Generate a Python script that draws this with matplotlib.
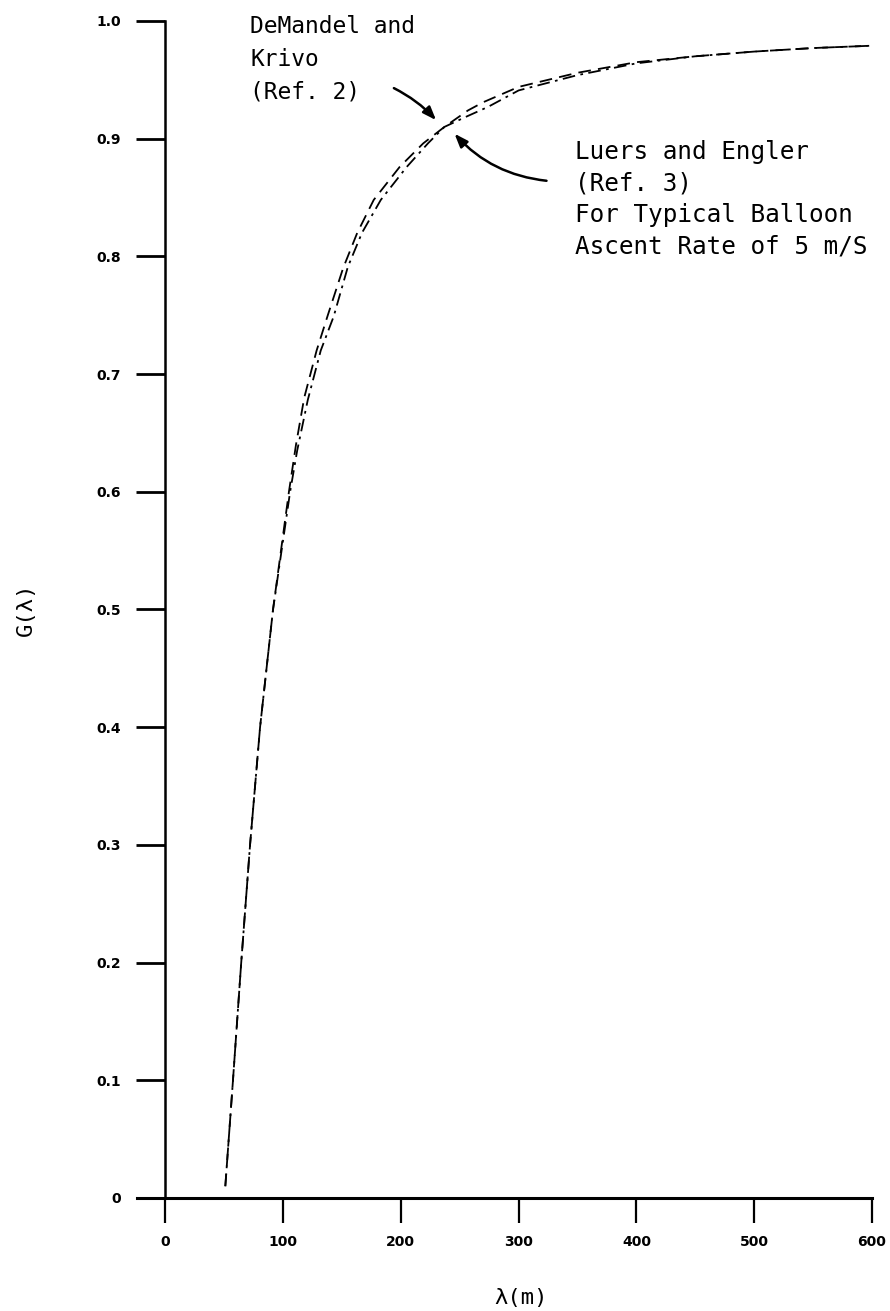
import matplotlib
matplotlib.use("Agg")
import matplotlib.pyplot as plt

# ---- data ----
demandel_x = [51, 57.5, 64.5, 72, 80.5, 91.5, 105, 111, 118, 128.5, 138, 151, 163, 177,
              199, 219, 237, 257, 270, 300, 350, 400, 450, 500, 550, 600]
demandel_y = [0.01, 0.10, 0.20, 0.30, 0.40, 0.50, 0.60, 0.64, 0.68, 0.72, 0.75, 0.79, 0.82,
              0.848, 0.876, 0.896, 0.910, 0.924, 0.931, 0.944, 0.956, 0.965, 0.970, 0.974,
              0.977, 0.979]

luers_x = [51, 57.5, 64.5, 72, 80.5, 91.5, 106, 112, 121, 132, 143, 155, 167, 183,
           205, 223, 237, 254, 274, 300, 350, 400, 450, 500, 550, 600]
luers_y = [0.01, 0.10, 0.20, 0.30, 0.40, 0.50, 0.60, 0.635, 0.678, 0.72, 0.749, 0.791, 0.82,
           0.848, 0.876, 0.896, 0.910, 0.918, 0.927, 0.941, 0.954, 0.964, 0.970, 0.974,
           0.977, 0.979]

x_ticks = [0, 100, 200, 300, 400, 500, 600]
x_tick_labels = ["0", "100", "200", "300", "400", "500", "600"]
y_ticks = [0, 0.1, 0.2, 0.3, 0.4, 0.5, 0.6, 0.7, 0.8, 0.9, 1.0]
y_tick_labels = ["0", "0.1", "0.2", "0.3", "0.4", "0.5", "0.6", "0.7", "0.8", "0.9", "1.0"]

label_demandel = "DeMandel and\nKrivo\n(Ref. 2)"
label_luers = "Luers and Engler\n(Ref. 3)\nFor Typical Balloon\nAscent Rate of 5 m/S"

# ---- figure ----
fig = plt.figure(figsize=(8.9, 13.11), dpi=100)
ax = fig.add_axes([0.1539, 0.0862, 0.8259, 0.8978])

mono = "DejaVu Sans Mono"

ax.plot(demandel_x, demandel_y, color="black", lw=1.3, linestyle=(0, (7, 4)))
ax.plot(luers_x, luers_y, color="black", lw=1.3, linestyle=(0, (7, 3, 1.5, 3)))

ax.set_xlim(-24, 600)
ax.set_ylim(0, 1.0)

for s in ["top", "right"]:
    ax.spines[s].set_visible(False)
ax.spines["left"].set_position(("data", 0))
ax.spines["left"].set_bounds(0, 1.0)
ax.spines["left"].set_linewidth(1.8)
ax.spines["bottom"].set_linewidth(2.2)

ax.set_xticks(x_ticks)
ax.set_xticklabels(x_tick_labels, fontsize=10, fontweight="bold")
ax.set_yticks(y_ticks)
ax.set_yticklabels(y_tick_labels, fontsize=10, fontweight="bold")
ax.tick_params(axis="x", direction="out", length=18, width=1.6, pad=9)
ax.tick_params(axis="y", direction="out", length=21, width=2.0, pad=11)

fig.text(0.029, 0.535, "G(\u03bb)", rotation=90, ha="center", va="center",
         fontsize=16, family=mono)
fig.text(0.585, 0.002, "\u03bb(m)", ha="center", va="bottom", fontsize=16, family=mono)

ax.text(72, 1.005, label_demandel, ha="left", va="top", fontsize=16.5,
        family=mono, linespacing=1.54)
ax.text(348, 0.899, label_luers, ha="left", va="top", fontsize=17.5,
        family=mono, linespacing=1.39)

ax.annotate("", xy=(231.5, 0.914), xytext=(192, 0.944),
            arrowprops=dict(arrowstyle="-|>,head_length=0.8,head_width=0.3",
                            color="black", lw=1.8,
                            connectionstyle="arc3,rad=-0.1"))
ax.annotate("", xy=(244, 0.906), xytext=(326, 0.864),
            arrowprops=dict(arrowstyle="-|>,head_length=0.8,head_width=0.3",
                            color="black", lw=1.8,
                            connectionstyle="arc3,rad=-0.2"))

fig.savefig("out.png", dpi=100)
